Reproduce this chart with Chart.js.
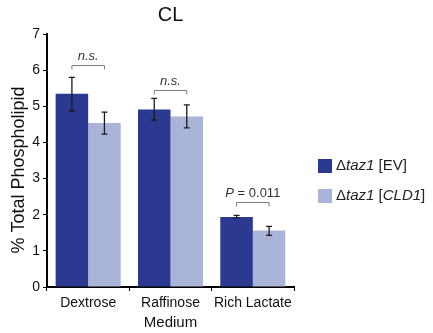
<!DOCTYPE html>
<html>
<head>
<meta charset="utf-8">
<script src="https://cdn.jsdelivr.net/npm/chart.js@4"></script>
<style>
    html, body { margin: 0; padding: 0; background: #fff; }
    #wrap { width: 433px; height: 333px; }
</style>
</head>
<body>
<div id="wrap"><canvas id="clChart" width="433" height="333"></canvas></div>
<script>
// values
const media = ['Dextrose', 'Raffinose', 'Rich Lactate'];
const evMean = [5.35, 4.91, 1.94];
const evLow = [4.87, 4.62, 1.91];
const evHigh = [5.80, 5.22, 1.98];
const cldMean = [4.54, 4.72, 1.56];
const cldLow = [4.23, 4.40, 1.43];
const cldHigh = [4.84, 5.04, 1.68];
const sigLabels = ['n.s.', 'n.s.', 'P = 0.011'];
const sigLevels = [6.13, 5.44, 2.35];
const yTicks = [0, 1, 2, 3, 4, 5, 6, 7];

const darkBlue = '#2b3990';
const lightBlue = '#aab4d8';
const fontName = '"Liberation Sans", Arial, sans-serif';

const errorBars = {
    id: 'errorBars',
    afterDatasetsDraw: function (chart) {
        const ctx = chart.ctx;
        const y = chart.scales.y;
        const ranges = [[evLow, evHigh], [cldLow, cldHigh]];
        ctx.save();
        ctx.strokeStyle = '#1a1a1a';
        ctx.lineWidth = 1.3;
        ranges.forEach(function (r, d) {
            chart.getDatasetMeta(d).data.forEach(function (bar, i) {
                const top = y.getPixelForValue(r[1][i]);
                const bot = y.getPixelForValue(r[0][i]);
                ctx.beginPath();
                ctx.moveTo(bar.x, top); ctx.lineTo(bar.x, bot);
                ctx.moveTo(bar.x - 3, top); ctx.lineTo(bar.x + 3, top);
                ctx.moveTo(bar.x - 3, bot); ctx.lineTo(bar.x + 3, bot);
                ctx.stroke();
            });
        });
        ctx.restore();
    }
};

const annotations = {
    id: 'annotations',
    afterDraw: function (chart) {
        const ctx = chart.ctx;
        const y = chart.scales.y;
        const area = chart.chartArea;
        const a = chart.getDatasetMeta(0).data;
        const b = chart.getDatasetMeta(1).data;
        ctx.save();
        // significance brackets
        for (let i = 0; i < media.length; i++) {
            const yy = Math.round(y.getPixelForValue(sigLevels[i])) + 0.5;
            ctx.strokeStyle = '#7a7a7a';
            ctx.lineWidth = 1;
            ctx.beginPath();
            ctx.moveTo(a[i].x, yy + 4); ctx.lineTo(a[i].x, yy);
            ctx.lineTo(b[i].x, yy); ctx.lineTo(b[i].x, yy + 4);
            ctx.stroke();
            const cx = (a[i].x + b[i].x) / 2;
            ctx.fillStyle = '#333';
            ctx.textBaseline = 'middle';
            if (sigLabels[i].startsWith('P')) {
                const p = 'P';
                const rest = sigLabels[i].slice(1);
                ctx.font = '13px ' + fontName;
                const wRest = ctx.measureText(rest).width;
                ctx.font = 'italic 13px ' + fontName;
                const wP = ctx.measureText(p).width;
                const x0 = cx - (wP + wRest) / 2;
                ctx.textAlign = 'left';
                ctx.fillText(p, x0, yy - 9);
                ctx.font = '13px ' + fontName;
                ctx.fillText(rest, x0 + wP, yy - 9);
            } else {
                ctx.font = 'italic 13px ' + fontName;
                ctx.textAlign = 'center';
                ctx.fillText(sigLabels[i], cx, yy - 9);
            }
        }
        // title
        ctx.fillStyle = '#111';
        ctx.font = '20px ' + fontName;
        ctx.textAlign = 'center';
        ctx.textBaseline = 'middle';
        ctx.fillText('CL', (area.left + area.right) / 2, 15);
        // y axis title, sits a bit below the middle of the axis
        ctx.save();
        ctx.translate(19, 170);
        ctx.rotate(-Math.PI / 2);
        ctx.font = '18px ' + fontName;
        ctx.fillText('% Total Phospholipid', 0, 0);
        ctx.restore();
        // legend with italic gene names
        const entries = [
            { color: darkBlue, parts: [['Δ', ''], ['taz1', 'italic '], [' [EV]', '']] },
            { color: lightBlue, parts: [['Δ', ''], ['taz1', 'italic '], [' [', ''], ['CLD1', 'italic '], [']', '']] }
        ];
        const lx = 318;
        entries.forEach(function (e, k) {
            const cy = 166 + k * 30;
            ctx.fillStyle = e.color;
            ctx.fillRect(lx, cy - 7, 14, 14);
            let x = lx + 18;
            ctx.fillStyle = '#222';
            ctx.textAlign = 'left';
            e.parts.forEach(function (p) {
                ctx.font = p[1] + '15px ' + fontName;
                ctx.fillText(p[0], x, cy);
                x += ctx.measureText(p[0]).width;
            });
        });
        ctx.restore();
    }
};

new Chart(document.getElementById('clChart'), {
    type: 'bar',
    data: {
        labels: media,
        datasets: [
            { label: 'Δtaz1 [EV]', data: evMean, backgroundColor: darkBlue },
            { label: 'Δtaz1 [CLD1]', data: cldMean, backgroundColor: lightBlue }
        ]
    },
    options: {
        responsive: false,
        animation: false,
        devicePixelRatio: 1,
        layout: { padding: { top: 34, right: 139, bottom: 0, left: 0 } },
        datasets: { bar: { categoryPercentage: 0.79, barPercentage: 1.0 } },
        plugins: {
            legend: { display: false },
            title: { display: false },
            tooltip: { enabled: false }
        },
        scales: {
            x: {
                afterFit: function (s) { s.height = 46; },
                grid: { display: true, drawOnChartArea: false, offset: true, color: '#000', tickLength: 4 },
                border: { color: '#000', width: 2 },
                ticks: { color: '#111', font: { family: fontName, size: 14 }, padding: 4, maxRotation: 0 },
                title: { display: true, text: 'Medium', color: '#111', font: { family: fontName, size: 15 }, padding: { top: 2, bottom: 1 } }
            },
            y: {
                min: 0,
                max: 7,
                afterFit: function (s) { s.width = 47; },
                afterBuildTicks: function (s) { s.ticks = yTicks.map(function (v) { return { value: v }; }); },
                grid: { display: true, drawOnChartArea: false, color: '#000', tickLength: 4 },
                border: { color: '#000', width: 2 },
                ticks: { color: '#111', font: { family: fontName, size: 14 }, padding: 3 },
                title: { display: false }
            }
        }
    },
    plugins: [errorBars, annotations]
});
</script>
</body>
</html>
